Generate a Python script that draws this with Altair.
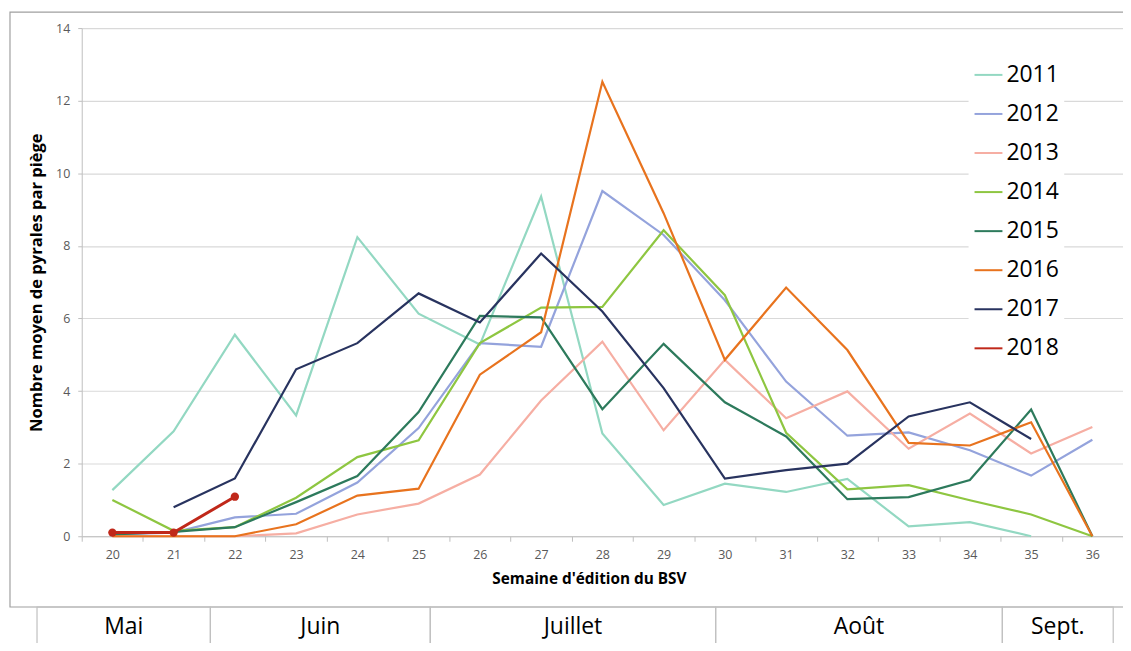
import altair as alt
import pandas as pd

weeks = list(range(20, 37))
years = ["2011", "2012", "2013", "2014", "2015", "2016", "2017", "2018"]
colors = ["#93d8c2", "#94a3dc", "#f6aea3", "#8ec641", "#2d7a5c", "#e8731e", "#28335f", "#c0281a"]

N = None
y2011 = [1.27, 2.89, 5.55, 3.33, 8.24, 6.13, 5.28, 9.36, 2.83, 0.86, 1.45, 1.22, 1.58, 0.27, 0.39, 0.0, N]
y2012 = [0.05, 0.10, 0.52, 0.62, 1.48, 2.98, 5.32, 5.22, 9.51, 8.30, 6.50, 4.26, 2.77, 2.86, 2.37, 1.67, 2.66]
y2013 = [0.0, 0.0, 0.0, 0.08, 0.60, 0.90, 1.70, 3.74, 5.36, 2.92, 4.86, 3.25, 3.99, 2.41, 3.38, 2.28, 3.01]
y2014 = [1.0, 0.15, 0.25, 1.06, 2.18, 2.64, 5.32, 6.30, 6.32, 8.43, 6.64, 2.85, 1.29, 1.41, 0.99, 0.60, 0.0]
y2015 = [0.05, 0.12, 0.25, 0.94, 1.66, 3.42, 6.07, 6.03, 3.50, 5.30, 3.69, 2.75, 1.02, 1.08, 1.55, 3.49, 0.0]
y2016 = [0.0, 0.0, 0.0, 0.33, 1.12, 1.31, 4.45, 5.62, 12.52, 8.90, 4.86, 6.85, 5.13, 2.57, 2.50, 3.14, 0.0]
y2017 = [N, 0.80, 1.59, 4.60, 5.32, 6.69, 5.89, 7.79, 6.19, 4.08, 1.59, 1.82, 2.00, 3.30, 3.69, 2.68, N]
y2018 = [0.10, 0.10, 1.09, N, N, N, N, N, N, N, N, N, N, N, N, N, N]

series = [y2011, y2012, y2013, y2014, y2015, y2016, y2017, y2018]

months = ["Mai", "Juin", "Juillet", "Août", "Sept."]
month_start = [18.77, 21.60, 25.19, 29.85, 34.53]
month_end = [21.60, 25.19, 29.85, 34.53, 36.34]

rows = []
for yr, vals in zip(years, series):
    for w, v in zip(weeks, vals):
        if v is not None:
            rows.append({"week": w, "value": v, "year": yr})
df = pd.DataFrame(rows)
df_old = df[df["year"] != "2018"]
df_new = df[df["year"] == "2018"]

mdf = pd.DataFrame({"month": months, "start": month_start, "end": month_end})
mdf["mid"] = (mdf["start"] + mdf["end"]) / 2

FONT = "Open Sans"
W, H = 1045, 510

xenc = alt.X(
    "week:O",
    scale=alt.Scale(type="band", domain=weeks, paddingInner=0, paddingOuter=0),
    axis=alt.Axis(
        title="Semaine d'édition du BSV",
        tickBand="extent",
        labelAngle=0,
        labelFontSize=12.5,
        labelColor="#595959",
        labelPadding=7,
        tickSize=5,
        tickColor="#bfbfbf",
        domainColor="#bfbfbf",
        grid=False,
        titleFontSize=15.4,
        titleFontWeight="bold",
        titleColor="#000000",
        titlePadding=11,
        titleX=509,
    ),
)
yenc = alt.Y(
    "value:Q",
    scale=alt.Scale(domain=[0, 14], nice=False),
    axis=alt.Axis(
        title="Nombre  moyen de pyrales par piège",
        values=[0, 2, 4, 6, 8, 10, 12, 14],
        labelFontSize=12.5,
        labelColor="#595959",
        labelPadding=8,
        tickSize=4,
        tickColor="#bfbfbf",
        domainColor="#bfbfbf",
        gridColor="#d9d9d9",
        gridWidth=1.2,
        titleFontSize=16.6,
        titleFontWeight="bold",
        titleColor="#000000",
        titlePadding=11,
    ),
)
cenc = alt.Color(
    "year:N",
    scale=alt.Scale(domain=years, range=colors),
    legend=alt.Legend(
        title=None,
        orient="none",
        legendX=890,
        legendY=27,
        padding=5,
        fillColor="white",
        symbolType="stroke",
        symbolSize=784,
        symbolStrokeWidth=2,
        labelFontSize=23,
        labelColor="#000000",
        labelFont=FONT,
        labelOffset=3,
        rowPadding=12.2,
    ),
)

lines_old = alt.Chart(df_old).mark_line(strokeWidth=2.2).encode(
    x=xenc, y=yenc, color=cenc, detail="year:N"
)
line_new = alt.Chart(df_new).mark_line(strokeWidth=3).encode(x=xenc, y=yenc, color=cenc)
pts_new = alt.Chart(df_new).mark_point(filled=True, size=70, opacity=1).encode(
    x=xenc, y=yenc, color=alt.Color("year:N", scale=alt.Scale(domain=years, range=colors), legend=None)
)
main = alt.layer(lines_old, line_new, pts_new)

one = pd.DataFrame({"a": [0]})
frame = alt.Chart(one).mark_rect(filled=False, stroke="#a0a0a0", strokeWidth=1.2).encode(
    x=alt.value(-72), x2=alt.value(1070), y=alt.value(-16), y2=alt.value(581)
)

mscale = alt.Scale(domain=[19.5, 36.5], nice=False, zero=False)
mrect = alt.Chart(mdf).mark_rect(filled=False, stroke="#c0c0c0", strokeWidth=1.2).encode(
    x=alt.X("start:Q", scale=mscale, axis=None),
    x2="end:Q",
    y=alt.value(581),
    y2=alt.value(660),
)
mtext = alt.Chart(mdf).mark_text(font=FONT, fontSize=23, color="#000000", baseline="alphabetic").encode(
    x=alt.X("mid:Q", scale=mscale, axis=None),
    y=alt.value(608),
    text="month:N",
)
months_layer = alt.layer(mrect, mtext)

chart = (
    alt.layer(frame, main, months_layer)
    .resolve_scale(x="independent")
    .properties(
        width=W,
        height=H,
        padding={"left": 74, "top": 19, "right": 0, "bottom": 106},
        autosize=alt.AutoSizeParams(type="none"),
    )
    .configure(font=FONT)
    .configure_view(stroke=None)
)

chart.save("out.html", embed_options={"renderer": "svg", "actions": False})
